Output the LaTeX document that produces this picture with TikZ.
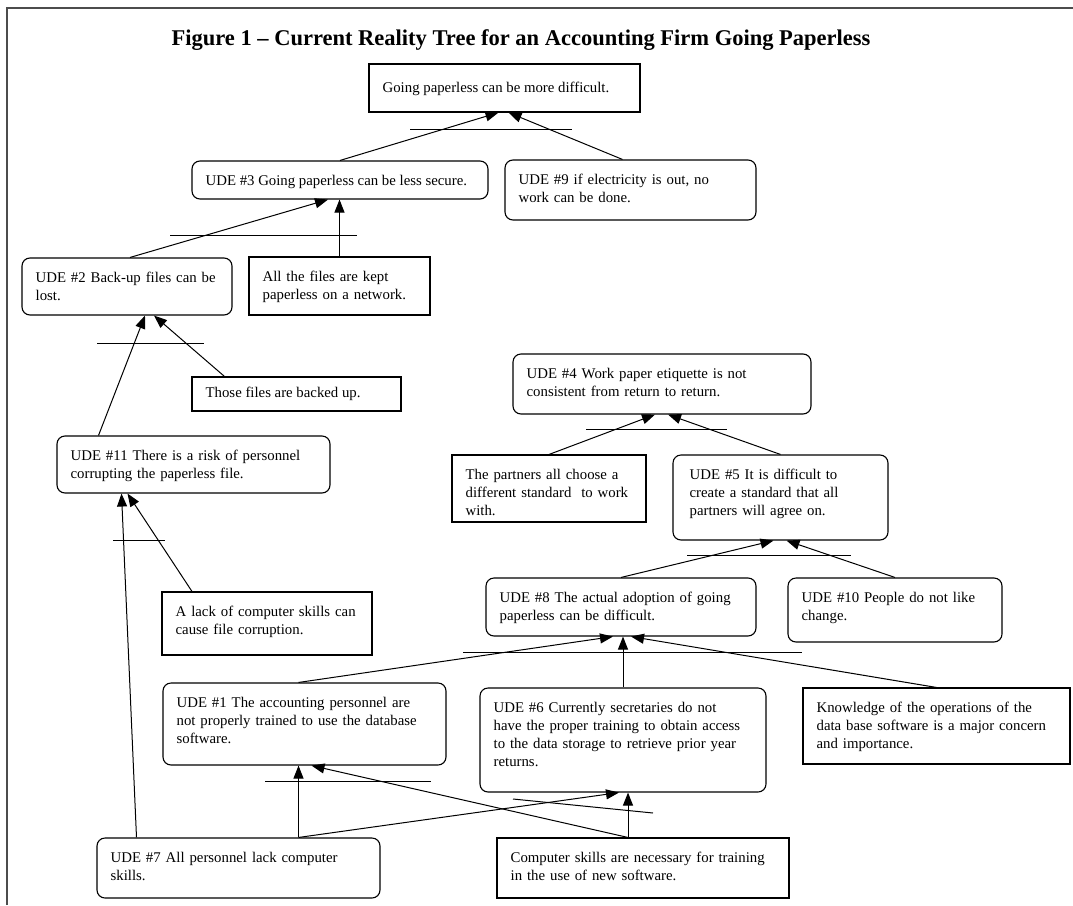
\documentclass[tikz,border=0pt]{standalone}
\usepackage{fontspec}
\setmainfont{Liberation Serif}
\usetikzlibrary{arrows.meta}
\tikzset{
  fact/.style={draw,line width=1.1pt,inner sep=0pt},
  ude/.style={fact,rounded corners=8pt},
  txt/.style={anchor=north west,inner xsep=14pt,inner ysep=14.5pt,align=left},
  cause/.style={-{Triangle[length=13pt,width=10pt]},line width=1pt},
  andbar/.style={line width=1pt}
}
\begin{document}
\begin{tikzpicture}[x=1pt,y=-1pt,font=\fontsize{14.8}{18}\selectfont]
\useasboundingbox (0,0) rectangle (1073,905);
\draw[line width=2pt,black!70] (7,905) -- (7,7.5) -- (1073,7.5);
\node[font=\bfseries\fontsize{22.5}{27}\selectfont,anchor=base] (title) at (521,45) {Figure 1 -- Current Reality Tree for an Accounting Firm Going Paperless};
\node[fact,minimum width=271,minimum height=48,label={[txt,inner ysep=18pt]north west:{Going paperless can be more difficult.}}] (g) at (504.5,88) {};
\node[ude,minimum width=296,minimum height=38,label={[txt]north west:{UDE \#3 Going paperless can be less secure.}}] (ude3) at (340,180) {};
\node[ude,minimum width=251,minimum height=60,label={[txt,text width=223]north west:{UDE \#9 if electricity is out, no\\work can be done.}}] (ude9) at (630.5,190) {};
\node[ude,minimum width=210,minimum height=57,label={[txt,text width=182]north west:{UDE \#2 Back-up files can be\\lost.}}] (ude2) at (127,286.5) {};
\node[fact,minimum width=181,minimum height=58,label={[txt,text width=153]north west:{All the files are kept\\paperless on a network.}}] (files) at (339.5,286) {};
\node[fact,minimum width=209,minimum height=34,label={[txt,inner ysep=10pt]north west:{Those files are backed up.}}] (backed) at (296.5,394) {};
\node[ude,minimum width=273,minimum height=57,label={[txt,text width=245]north west:{UDE \#11 There is a risk of personnel\\corrupting the paperless file.}}] (ude11) at (193.5,464.5) {};
\node[fact,minimum width=210,minimum height=63,label={[txt,text width=182]north west:{A lack of computer skills can\\cause file corruption.}}] (lack) at (267,623.5) {};
\node[ude,minimum width=298,minimum height=60,label={[txt,text width=270]north west:{UDE \#4 Work paper etiquette is not\\consistent from return to return.}}] (ude4) at (662,384) {};
\node[fact,minimum width=194,minimum height=67,label={[txt,text width=166]north west:{The partners all choose a\\different standard\ \ to work\\with.}}] (partners) at (549,488.5) {};
\node[ude,minimum width=215,minimum height=85,label={[txt,inner xsep=17pt,text width=181]north west:{UDE \#5 It is difficult to\\create a standard that all\\partners will agree on.}}] (ude5) at (780.5,497.5) {};
\node[ude,minimum width=270,minimum height=58,label={[txt,text width=242]north west:{UDE \#8 The actual adoption of going\\paperless can be difficult.}}] (ude8) at (621,607) {};
\node[ude,minimum width=214,minimum height=64,label={[txt,text width=186]north west:{UDE \#10 People do not like\\change.}}] (ude10) at (895,610) {};
\node[ude,minimum width=283,minimum height=82,label={[txt,text width=255]north west:{UDE \#1 The accounting personnel are\\not properly trained to use the database\\software.}}] (ude1) at (304.5,724) {};
\node[ude,minimum width=286,minimum height=104,label={[txt,text width=258]north west:{UDE \#6 Currently secretaries do not\\have the proper training to obtain access\\to the data storage to retrieve prior year\\returns.}}] (ude6) at (623,740) {};
\node[fact,minimum width=267,minimum height=76,label={[txt,text width=239]north west:{Knowledge of the operations of the\\data base software is a major concern\\and importance.}}] (know) at (936.5,726) {};
\node[ude,minimum width=283,minimum height=60,label={[txt,text width=255]north west:{UDE \#7 All personnel lack computer\\skills.}}] (ude7) at (238.5,868) {};
\node[fact,minimum width=292,minimum height=60,label={[txt,text width=264]north west:{Computer skills are necessary for training\\in the use of new software.}}] (skills) at (643,868) {};
\draw[andbar] (410,129) -- (572,129);
\draw[andbar] (170,235) -- (357,235);
\draw[andbar] (97,343) -- (204,343);
\draw[andbar] (113,540) -- (165,540);
\draw[andbar] (586,429) -- (727,429);
\draw[andbar] (687,555) -- (851,555);
\draw[andbar] (463,652) -- (802,652);
\draw[andbar] (265,781) -- (431,781);
\draw[andbar] (513,799) -- (653,813);
\draw[cause] (ude3.north) -- ([xshift=-6]g.south);
\draw[cause] ([xshift=-8]ude9.north) -- ([xshift=4]g.south);
\draw[cause] ([xshift=3]ude2.north) -- ([xshift=-12]ude3.south);
\draw[cause] (files.north) -- (files.north |- ude3.south);
\draw[cause] ([xshift=-95]ude11.north) -- ([xshift=18]ude2.south);
\draw[cause] ([xshift=-72]backed.north) -- ([xshift=27]ude2.south);
\draw[cause] ([xshift=-75]lack.north) -- ([xshift=-66]ude11.south);
\draw[cause] ([xshift=-102]ude7.north) -- ([xshift=-72]ude11.south);
\draw[cause] (partners.north) -- ([xshift=-7]ude4.south);
\draw[cause] (ude5.north) -- ([xshift=6]ude4.south);
\draw[cause] (ude8.north) -- ([xshift=-7]ude5.south);
\draw[cause] (ude10.north) -- ([xshift=6]ude5.south);
\draw[cause] ([xshift=-6]ude1.north) -- ([xshift=-8]ude8.south);
\draw[cause] (ude6.north) -- (ude6.north |- ude8.south);
\draw[cause] (know.north) -- ([xshift=10]ude8.south);
\draw[cause] ([xshift=60]ude7.north) -- ([xshift=60]ude7.north |- ude1.south);
\draw[cause] ([xshift=-15]skills.north) -- ([xshift=7]ude1.south);
\draw[cause] ([xshift=60]ude7.north) -- ([xshift=-4]ude6.south);
\draw[cause] ([xshift=-15]skills.north) -- ([xshift=-15]skills.north |- ude6.south);
\end{tikzpicture}
\end{document}
